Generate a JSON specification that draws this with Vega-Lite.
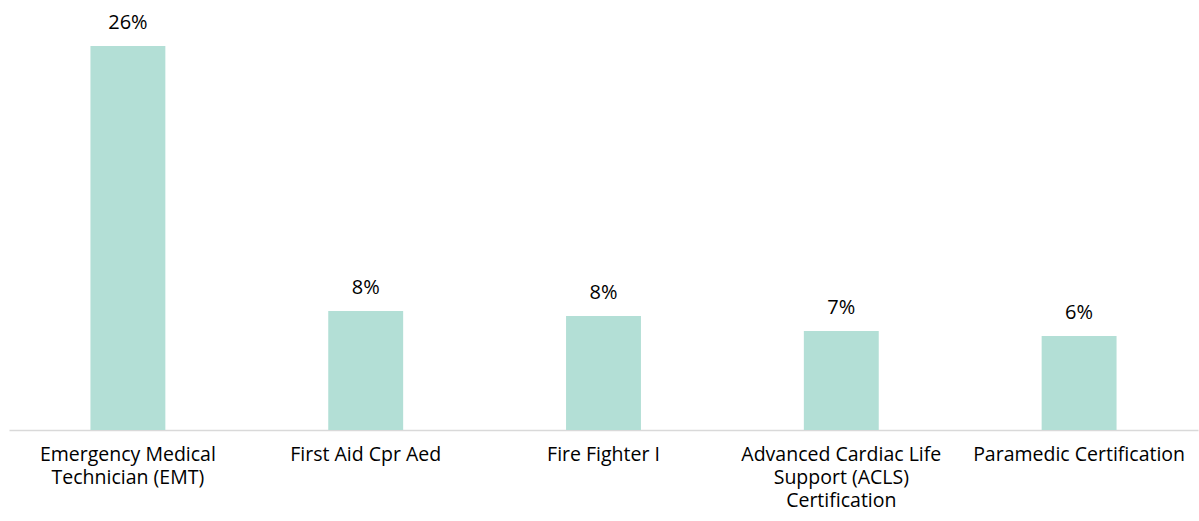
{
  "$schema": "https://vega.github.io/schema/vega-lite/v6.json",
  "width": 1189,
  "height": 384,
  "autosize": "none",
  "padding": {"left": 9, "right": 1, "top": 46, "bottom": 91},
  "background": "white",
  "config": {"view": {"stroke": null}, "font": "Open Sans"},
  "data": {
    "values": [
      {"cert": "Emergency Medical Technician (EMT)", "share": 0.26},
      {"cert": "First Aid Cpr Aed", "share": 0.0806},
      {"cert": "Fire Fighter I", "share": 0.0772},
      {"cert": "Advanced Cardiac Life Support (ACLS) Certification", "share": 0.067},
      {"cert": "Paramedic Certification", "share": 0.0636}
    ]
  },
  "encoding": {
    "x": {
      "field": "cert",
      "type": "nominal",
      "sort": null,
      "scale": {"paddingInner": 0.685, "paddingOuter": 0.3425},
      "axis": {
        "title": null,
        "labelAngle": 0,
        "labelFont": "Open Sans",
        "labelFontSize": 19.5,
        "labelColor": "#000000",
        "labelPadding": 15,
        "labelBaseline": "top",
        "labelLineHeight": 23,
        "labelLimit": 0,
        "ticks": false,
        "domainColor": "#d9d9d9",
        "domainWidth": 1.5,
        "labelExpr": "datum.value == 'Emergency Medical Technician (EMT)' ? ['Emergency Medical', 'Technician (EMT)'] : datum.value == 'Advanced Cardiac Life Support (ACLS) Certification' ? ['Advanced Cardiac Life', 'Support (ACLS)', 'Certification'] : datum.value"
      }
    },
    "y": {
      "field": "share",
      "type": "quantitative",
      "scale": {"domain": [0, 0.26], "nice": false},
      "axis": null
    }
  },
  "layer": [
    {"mark": {"type": "bar", "color": "#b3dfd6"}},
    {
      "mark": {"type": "text", "baseline": "bottom", "dy": -13, "fontSize": 20, "color": "#000000", "font": "Open Sans", "clip": false},
      "encoding": {"text": {"field": "share", "format": ".0%"}}
    }
  ]
}
